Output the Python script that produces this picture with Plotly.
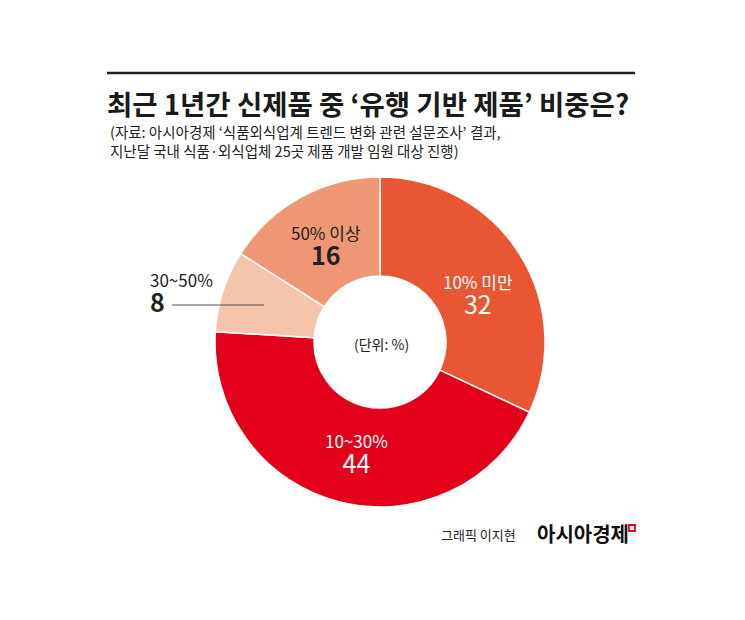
import plotly.graph_objects as go

W, H = 745, 620

# data
categories = ["10% 미만", "10~30%", "30~50%", "50% 이상"]
values = [32, 44, 8, 16]
colors = ["#E85634", "#E3001B", "#F6C3AB", "#EF9774"]
text_colors = ["white", "white", "#222222", "#222222"]
num_bold = [False, False, True, True]

title = "최근 1년간 신제품 중 ‘유행 기반 제품’ 비중은?"
subtitle = [
    "(자료: 아시아경제 ‘식품외식업계 트렌드 변화 관련 설문조사’ 결과,",
    "지난달 국내 식품·외식업체 25곳 제품 개발 임원 대상 진행)",
]
unit = "(단위: %)"
credit = "그래픽 이지현"
brand = "아시아경제"

# label placement (pixel centre of each two-line label), per slice
label_pos = [(478, 295), (356, 454), (148, 293), (326, 246)]
label_anchor = ["center", "center", "left", "center"]

FONT = "Noto Sans CJK KR"
OFF = 8  # page offset of the rendered figure


def px(x, y):
    # reference pixel position -> paper coordinates
    return (x - OFF) / W, 1 - (y - OFF) / H


cx, cy, r = 380, 342, 165
x0, y1 = px(cx - r, cy - r)
x1, y0 = px(cx + r, cy + r)

fig = go.Figure(
    go.Pie(
        labels=categories,
        values=values,
        sort=False,
        direction="clockwise",
        rotation=0,
        hole=0.4,
        textinfo="none",
        marker=dict(colors=colors, line=dict(color="white", width=1.5)),
        domain=dict(x=[x0, x1], y=[y0, y1]),
        hoverinfo="label+value",
        showlegend=False,
    )
)

# title rule
fig.add_shape(type="line", xref="paper", yref="paper",
              x0=px(107, 73)[0], y0=px(107, 73)[1],
              x1=px(635, 73)[0], y1=px(635, 73)[1],
              line=dict(color="#222222", width=2.5))

ann = []
tx, ty = px(105, 103)
ann.append(dict(text="<b>%s</b>" % title, x=tx, y=ty, xanchor="left", yanchor="middle",
                font=dict(family=FONT, size=27.5, color="#1a1a1a")))
sx, sy = px(108, 141)
ann.append(dict(text="<br>".join(subtitle), x=sx, y=sy, xanchor="left", yanchor="middle",
                align="left", font=dict(family=FONT, size=14.5, color="#222222")))

# centre unit
ux, uy = px(381, 344)
ann.append(dict(text=unit, x=ux, y=uy, xanchor="center", yanchor="middle",
                font=dict(family=FONT, size=14, color="#222222")))

# slice labels
for c, v, b, col, p, anc in zip(categories, values, num_bold, text_colors,
                                label_pos, label_anchor):
    num = "<b>%d</b>" % v if b else "%d" % v
    lx, ly = px(*p)
    ann.append(dict(
        text="<span style='font-size:17px'>%s</span><br>"
             "<span style='font-size:25px'>%s</span>" % (c, num),
        x=lx, y=ly, xanchor=anc, yanchor="middle", align=anc,
        font=dict(family=FONT, size=19, color=col)))

# leader line for the small slice
fig.add_shape(type="line", xref="paper", yref="paper",
              x0=px(172, 305)[0], y0=px(172, 305)[1],
              x1=px(264, 305)[0], y1=px(264, 305)[1],
              line=dict(color="#555555", width=1))

# credit
gx, gy = px(518, 534)
ann.append(dict(text=credit, x=gx, y=gy, xanchor="right", yanchor="middle",
                font=dict(family=FONT, size=13, color="#222222")))
bx, by = px(535, 533)
ann.append(dict(text="<b>%s</b>" % brand, x=bx, y=by, xanchor="left", yanchor="middle",
                font=dict(family=FONT, size=20, color="#111111")))
fig.add_shape(type="rect", xref="paper", yref="paper",
              x0=px(629, 525)[0], y0=px(629, 525)[1],
              x1=px(635, 531)[0], y1=px(635, 531)[1],
              line=dict(color="#E3001B", width=1.8), fillcolor="white")

for a in ann:
    a.update(xref="paper", yref="paper", showarrow=False)

fig.update_layout(
    width=W,
    height=H,
    margin=dict(l=0, r=0, t=0, b=0),
    paper_bgcolor="white",
    plot_bgcolor="white",
    font=dict(family=FONT),
    annotations=ann,
)

fig.write_html("out.html")
